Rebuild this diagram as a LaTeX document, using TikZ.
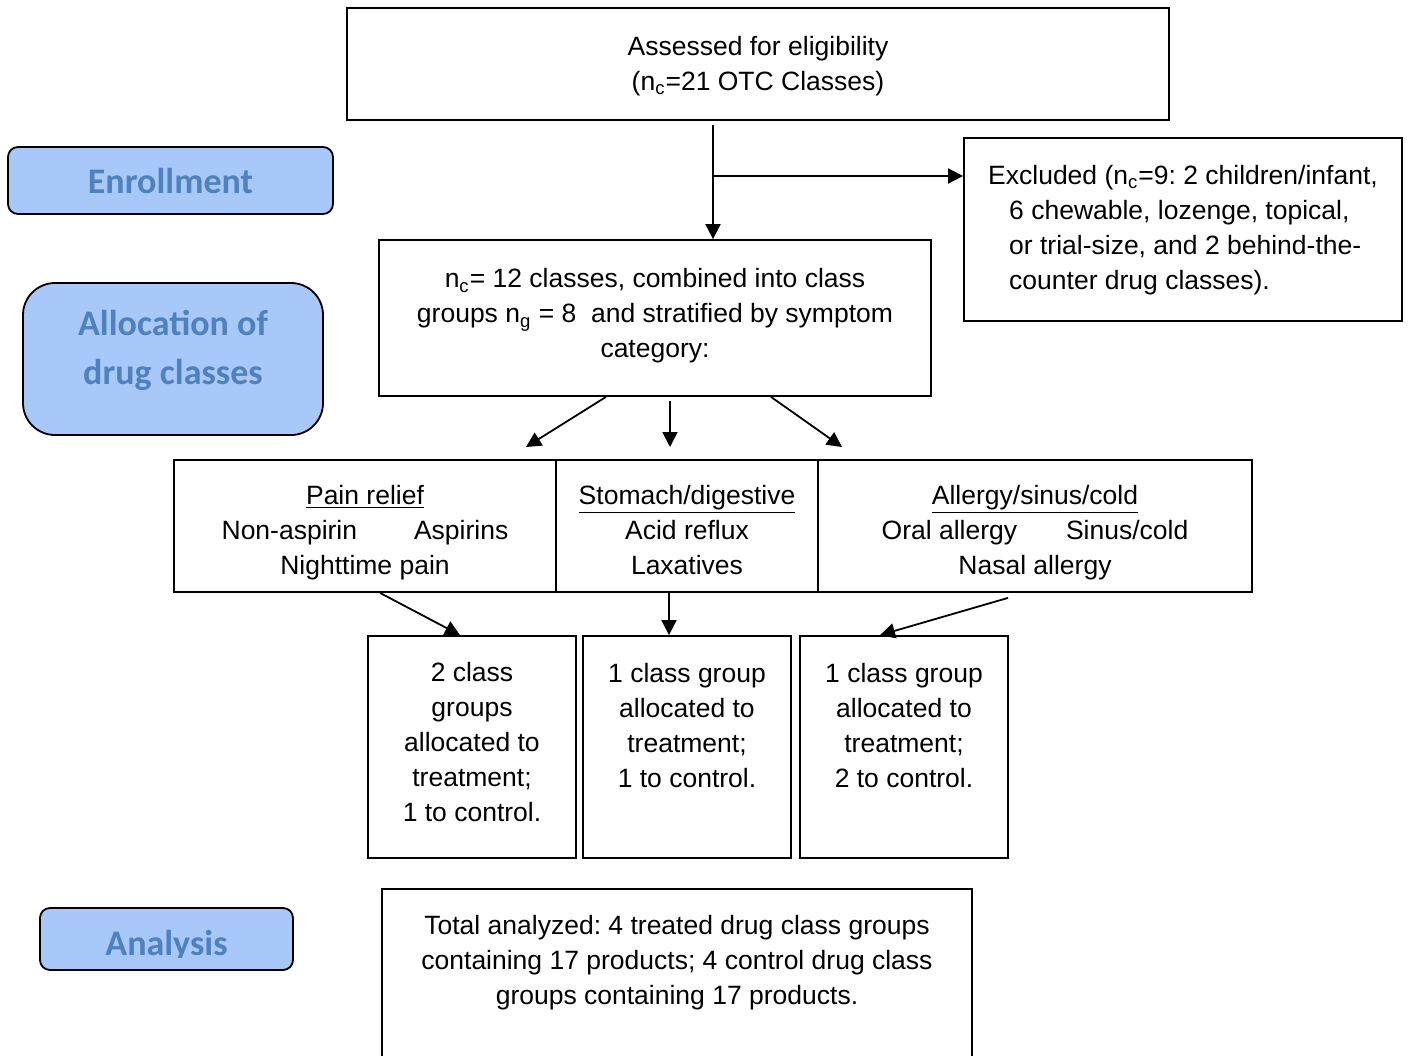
\documentclass[tikz,border=0pt]{standalone}
\usepackage{fontspec}
\setmainfont{Liberation Sans}
\newfontfamily\calibri{Carlito}
\usetikzlibrary{arrows.meta}
\frenchspacing

\definecolor{phasefill}{RGB}{168,200,250}
\definecolor{phasetext}{RGB}{79,129,189}
\newcommand{\nsub}[1]{n\textsubscript{#1}}
\newcommand{\lowpad}[1]{\rule[-#1]{0pt}{0pt}}
\newcommand{\toppad}[1]{\rule{0pt}{#1}}

\tikzset{
  flowbox/.style={draw, line width=0.9pt, align=center, inner sep=0pt,
    font=\fontsize{13.25}{17.5}\selectfont},
  phase/.style={draw, line width=0.9pt, fill=phasefill, text=phasetext,
    align=center, font=\calibri\bfseries\fontsize{18}{24.5}\selectfont},
  flow/.style={line width=0.9pt, -{Triangle[length=7.5pt,width=7.5pt]}}
}

\begin{document}
\begin{tikzpicture}[x=0.5pt,y=-0.5pt]
    \useasboundingbox (0,0) rectangle (1408,1055);
    % stage labels
    \node[phase, rounded corners=5pt, minimum width=162.5pt, minimum height=33.5pt] (enrol) at (170.5,180.5) {Enrollment};
    \node[phase, rounded corners=16pt, minimum width=150pt, minimum height=76pt] (alloc) at (173,359) {Allocation of\\drug classes\lowpad{12pt}};
    \node[phase, rounded corners=5pt, minimum width=126.5pt, minimum height=31pt] (analysis) at (166.5,939) {};
    \begin{scope}
      \clip (40,908) rectangle (293,957);
      \node[phase, draw=none, fill=none, anchor=base] (analysistext) at (166.5,955) {Analysis};
    \end{scope}
    % enrollment
    \node[flowbox, minimum width=411pt, minimum height=56pt] (assess) at (758,64) {\toppad{11.7pt}Assessed for eligibility\\(\nsub{c}=21 OTC Classes)};
    \node[flowbox, align=left, minimum width=219pt, minimum height=91.5pt] (excl) at (1183,229.5) {\toppad{11.7pt}Excluded (\nsub{c}=9: 2 children/infant,\\\hspace*{10.5pt}6 chewable, lozenge, topical,\\\hspace*{10.5pt}or trial-size, and 2 behind-the-\\\hspace*{10.5pt}counter drug classes).\lowpad{4.5pt}};
    \node[flowbox, minimum width=276pt, minimum height=78pt] (pool) at (655,318) {\toppad{12.7pt}\nsub{c}= 12 classes, combined into class\\groups \nsub{g} = 8\ \ and stratified by symptom\\category:\lowpad{7.75pt}};
    \coordinate (split) at (713,176);
    \draw[flow, shorten <=2pt] (split |- assess.south) -- (split |- pool.north);
    \draw[flow] (split) -- (excl.west |- split);
    % symptom categories
    \node[flowbox, minimum width=191pt, minimum height=66pt] (pain) at (365,526) {\toppad{15.75pt}\underline{Pain relief}\\Non-aspirin\hspace{28.5pt}Aspirins\\Nighttime pain};
    \node[flowbox, minimum width=131pt, minimum height=66pt] (stomach) at (687,526) {\toppad{13.7pt}\underline{Stomach/digestive}\\Acid reflux\\Laxatives};
    \node[flowbox, minimum width=217pt, minimum height=66pt] (allergy) at (1035,526) {\toppad{15.75pt}\underline{Allergy/sinus/cold}\\Oral allergy\hspace{24.5pt}Sinus/cold\\Nasal allergy};
    \coordinate (catl) at (526,447);
    \coordinate (catm) at (670,447);
    \coordinate (catr) at (842,447);
    \draw[flow] ([xshift=-24.5pt]pool.south) -- (catl);
    \draw[flow] ([xshift=7.5pt,yshift=-2pt]pool.south) -- (catm);
    \draw[flow] ([xshift=58pt]pool.south) -- (catr);
    % allocation per category
    \node[flowbox, minimum width=104pt, minimum height=111pt] (grp1) at (472,747) {\toppad{11.7pt}2 class\\groups\\allocated to\\treatment;\\1 to control.\lowpad{7pt}};
    \node[flowbox, minimum width=104pt, minimum height=111pt] (grp2) at (687,747) {\toppad{11.7pt}1 class group\\allocated to\\treatment;\\1 to control.\lowpad{24pt}};
    \node[flowbox, minimum width=104pt, minimum height=111pt] (grp3) at (904,747) {\toppad{11.7pt}1 class group\\allocated to\\treatment;\\2 to control.\lowpad{24pt}};
    \draw[flow] ([xshift=7.5pt]pain.south) -- ([xshift=-6pt]grp1.north);
    \draw[flow] ([xshift=-9pt]stomach.south) -- ([xshift=-9pt]grp2.north);
    \draw[flow] ([xshift=-13.5pt,yshift=-2.5pt]allergy.south) -- ([xshift=-12pt]grp3.north);
    % analysis
    \node[flowbox, minimum width=295pt, minimum height=98pt] (total) at (677,987) {\toppad{12.7pt}Total analyzed: 4 treated drug class groups\\containing 17 products; 4 control drug class\\groups containing 17 products.\lowpad{29.75pt}};
\end{tikzpicture}
\end{document}
